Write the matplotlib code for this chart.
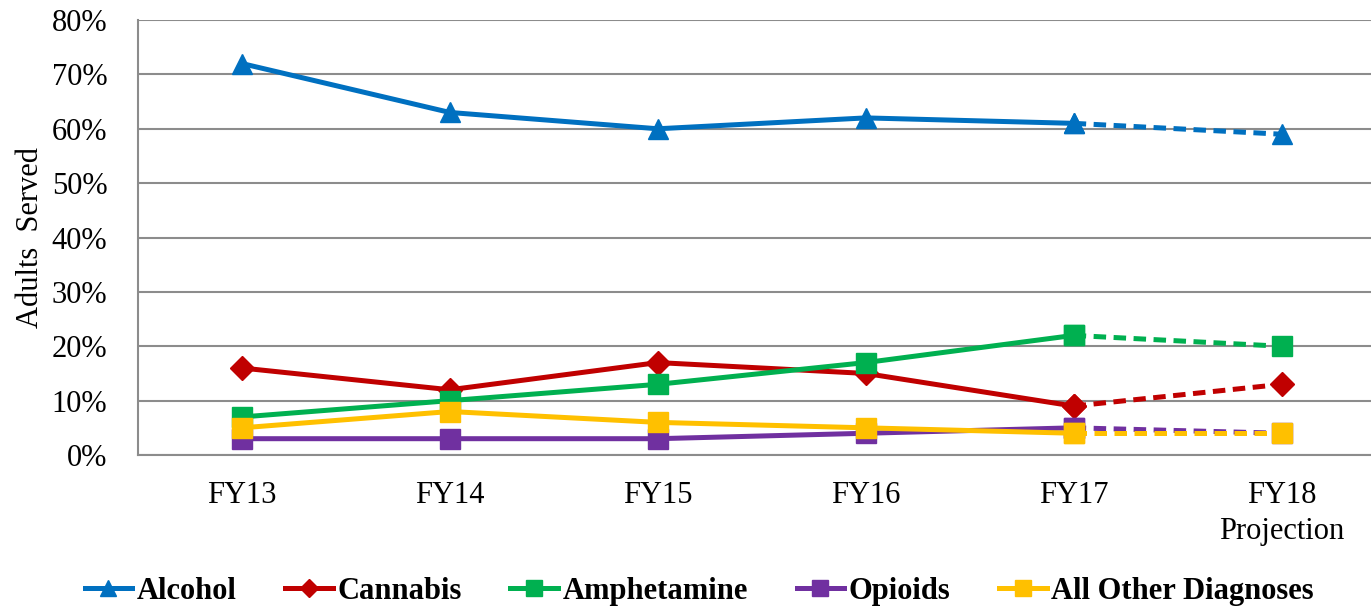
import matplotlib.pyplot as plt

plt.rcParams["font.family"] = ["Liberation Serif", "DejaVu Serif"]

years = ["FY13", "FY14", "FY15", "FY16", "FY17", "FY18\nProjection"]
alcohol = [72, 63, 60, 62, 61, 59]
cannabis = [16, 12, 17, 15, 9, 13]
amphetamine = [7, 10, 13, 17, 22, 20]
opioids = [3, 3, 3, 4, 5, 4]
other = [5, 8, 6, 5, 4, 4]

series = [
    ("Alcohol", alcohol, "#0070C0", "^"),
    ("Cannabis", cannabis, "#C00000", "D"),
    ("Amphetamine", amphetamine, "#00B050", "s"),
    ("Opioids", opioids, "#7030A0", "s"),
    ("All Other Diagnoses", other, "#FFC000", "s"),
]

fig = plt.figure(figsize=(13.71, 6.07), dpi=100)
ax = fig.add_axes([0.1006, 0.2504, 0.8994, 0.7166])

x = list(range(len(years)))
for name, vals, color, marker in series:
    ms = 12 if marker == "D" else 14
    ax.plot(x[:5], vals[:5], color=color, lw=3.6, marker=marker, ms=ms,
            label=name, zorder=3)
    ax.plot(x[4:], vals[4:], color=color, lw=3.6, ls=(0, (2.5, 1.5)),
            marker=marker, ms=ms, zorder=3)

ax.set_xlim(-0.5, 5.43)
ax.set_ylim(0, 80)
ax.set_yticks(range(0, 81, 10))
ax.set_yticklabels([f"{v}%" for v in range(0, 81, 10)])
ax.set_xticks(x)
ax.set_xticklabels(years, linespacing=1.3)
ax.tick_params(labelsize=22, length=0)
ax.tick_params(axis="y", pad=22)
ax.tick_params(axis="x", pad=19)
ax.set_ylabel("Adults  Served", fontsize=22)
ax.yaxis.set_label_coords(-0.075, 0.5)
ax.grid(axis="y", color="#8C8C8C", lw=1.5)
ax.set_axisbelow(True)
for side in ["top", "right"]:
    ax.spines[side].set_visible(False)
for side in ["left", "bottom"]:
    ax.spines[side].set_color("#8C8C8C")
    ax.spines[side].set_linewidth(1.5)

fig.legend(loc="center", bbox_to_anchor=(0.51, 0.026), ncol=5,
           frameon=False, prop={"weight": "bold", "size": 22},
           handlelength=1.55, handletextpad=0.15, columnspacing=1.6,
           markerscale=0.8)

fig.savefig("out.png", dpi=100)
